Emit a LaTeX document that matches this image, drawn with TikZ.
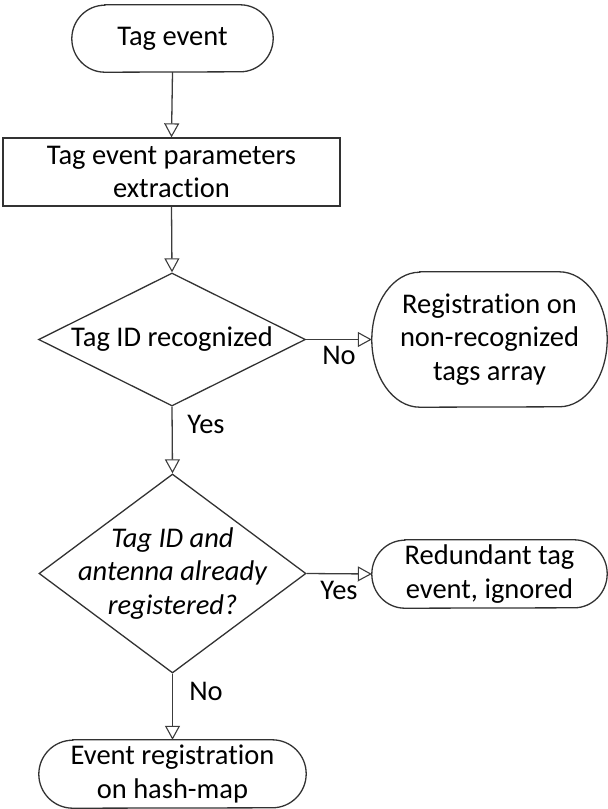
\documentclass[tikz,border=0pt]{standalone}
\usepackage{fontspec}
\setmainfont{Carlito}[Ligatures=NoCommon]
\usetikzlibrary{arrows.meta,shapes.geometric}

% Terminal outline with elliptical ends of horizontal radius #2 around node #1
\newcommand{\termoutline}[2]{%
  \draw[shapeline] ([xshift=#2]#1.north west) -- ([xshift=-#2]#1.north east)
    arc[start angle=90, end angle=-90, x radius=#2, y radius=0.5*\pgfkeysvalueof{/tikz/th}]
    -- ([xshift=#2]#1.south west)
    arc[start angle=270, end angle=90, x radius=#2, y radius=0.5*\pgfkeysvalueof{/tikz/th}]
    -- cycle;}

\begin{document}
\begin{tikzpicture}[x=1pt, y=-1pt,
  every node/.style={font=\fontsize{28.5}{33.5}\selectfont, align=center, text=black},
  shapeline/.style={draw={rgb,255:red,50;green,50;blue,50}, line width=1.3pt},
  conn/.style={draw={rgb,255:red,60;green,60;blue,60}, line width=1.3pt,
    -{Triangle[length=14pt, width=15pt, fill=white, line width=1.1pt]}},
  termbox/.style={inner sep=0pt, minimum width=#1},
  procbox/.style={shapeline, rectangle, inner sep=0pt, minimum width=337pt, minimum height=68pt},
  decision/.style={shapeline, diamond, inner sep=0pt, minimum width=267pt, minimum height=#1},
  branch/.style={inner sep=0pt},
  th/.initial=68pt]

\useasboundingbox (0,0) rectangle (608,809);

% Start terminal
\node[termbox=201pt, minimum height=67pt] (start) at (172.5,38.5) {Tag event};
\pgfkeys{/tikz/th=67pt}\termoutline{start}{33pt}

% Parameter extraction
\node[procbox] (extract) at (171.5,172) {Tag event parameters\\extraction};

% First decision
\node[decision=133pt] (rec) at (172,339.5) {};
\node (rectext) at (rec.center) {Tag ID recognized};

% Non-recognized branch
\node[termbox=235pt, minimum height=135pt] (nonrec) at (489.5,339.5)
  {Registration on\\non-recognized\\tags array};
\pgfkeys{/tikz/th=135pt}\termoutline{nonrec}{48pt}

% Second decision
\node[decision=199pt] (reg) at (172.5,573.5) {};
\node (regtext) at (reg.center) {\itshape Tag ID and\\\itshape antenna already\\\itshape registered?};

% Redundant event
\node[termbox=235pt, minimum height=68pt] (redund) at (489.5,574)
  {Redundant tag\\event, ignored};
\pgfkeys{/tikz/th=68pt}\termoutline{redund}{33pt}

% Registration on hash-map
\node[termbox=267pt, minimum height=68pt] (hash) at (172.5,774)
  {Event registration\\on hash-map};
\termoutline{hash}{34pt}

% Connectors
\draw[conn] (start.south) -- (extract.north);
\draw[conn] (extract.south) -- (rec.north);
\draw[conn] (rec.east) -- (nonrec.west);
\draw[conn] (rec.south) -- (reg.north);
\draw[conn] (reg.east) -- (redund.west);
\draw[conn] (reg.south) -- (hash.north);

% Branch labels
\node[branch] (lno1) at (339,355) {No};
\node[branch] (lyes1) at (206,424) {Yes};
\node[branch] (lyes2) at (339,590) {Yes};
\node[branch] (lno2) at (206,691) {No};
\end{tikzpicture}
\end{document}
